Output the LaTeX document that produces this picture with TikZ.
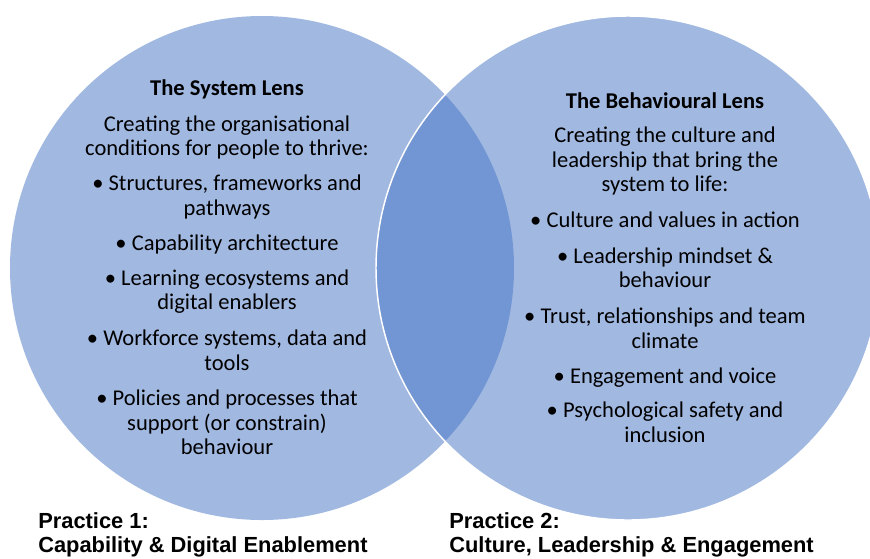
\documentclass[tikz,border=0pt]{standalone}
\usepackage{fontspec}
\setmainfont{Carlito}
\newfontfamily\labfont{Liberation Sans}
\definecolor{lensblue}{HTML}{4472C4}
\begin{document}
\begin{tikzpicture}[x=0.75pt,y=-0.75pt,
  txt/.style={anchor=base,inner sep=0pt,font=\fontsize{16.9}{18.4}\selectfont},
  ttl/.style={anchor=base,inner sep=0pt,font=\fontsize{16.9}{18.4}\selectfont\bfseries},
  lab/.style={anchor=base west,inner sep=0pt,font=\labfont\bfseries\fontsize{16.4}{19}\selectfont},
  lensfill/.style={fill=lensblue,fill opacity=0.5}]
\useasboundingbox (0,0) rectangle (870,558);
\clip (0,0) rectangle (870,558);
% circles
\path[lensfill] (262,268) circle[radius=252];
\path[lensfill,draw=white,draw opacity=1,line width=1.1pt] (628,268) circle[radius=252];
% left circle text
\node[ttl] (lt) at (227,95) {The System Lens};
\node[txt] (l1) at (227,131) {Creating the organisational};
\node[txt] (l2) at (227,155.5) {conditions for people to thrive:};
\node[txt] (l3) at (227,190) {•~Structures, frameworks and};
\node[txt] (l4) at (227,215) {pathways};
\node[txt] (l5) at (227,250) {•~Capability architecture};
\node[txt] (l6) at (227,285) {•~Learning ecosystems and};
\node[txt] (l7) at (227,309.5) {digital enablers};
\node[txt] (l8) at (227,345) {•~Workforce systems, data and};
\node[txt] (l9) at (227,370) {tools};
\node[txt] (l10) at (227,405) {•~Policies and processes that};
\node[txt] (l11) at (227,430) {support (or constrain)};
\node[txt] (l12) at (227,454.5) {behaviour};
% right circle text
\node[ttl] (rt) at (665,108) {The Behavioural Lens};
\node[txt] (r1) at (665,142.5) {Creating the culture and};
\node[txt] (r2) at (665,167) {leadership that bring the};
\node[txt] (r3) at (665,191.5) {system to life:};
\node[txt] (r4) at (665,227) {•~Culture and values in action};
\node[txt] (r5) at (665,263) {•~Leadership mindset \&};
\node[txt] (r6) at (665,287.5) {behaviour};
\node[txt] (r7) at (665,323) {•~Trust, relationships and team};
\node[txt] (r8) at (665,348) {climate};
\node[txt] (r9) at (665,383) {•~Engagement and voice};
\node[txt] (r10) at (665,417.5) {•~Psychological safety and};
\node[txt] (r11) at (665,442.5) {inclusion};
% practice labels
\node[lab] (p1a) at (38,528) {Practice 1:};
\node[lab] (p1b) at (38,552) {Capability \& Digital Enablement};
\node[lab] (p2a) at (449,528) {Practice 2:};
\node[lab] (p2b) at (449,552) {Culture, Leadership \& Engagement};
\end{tikzpicture}
\end{document}
